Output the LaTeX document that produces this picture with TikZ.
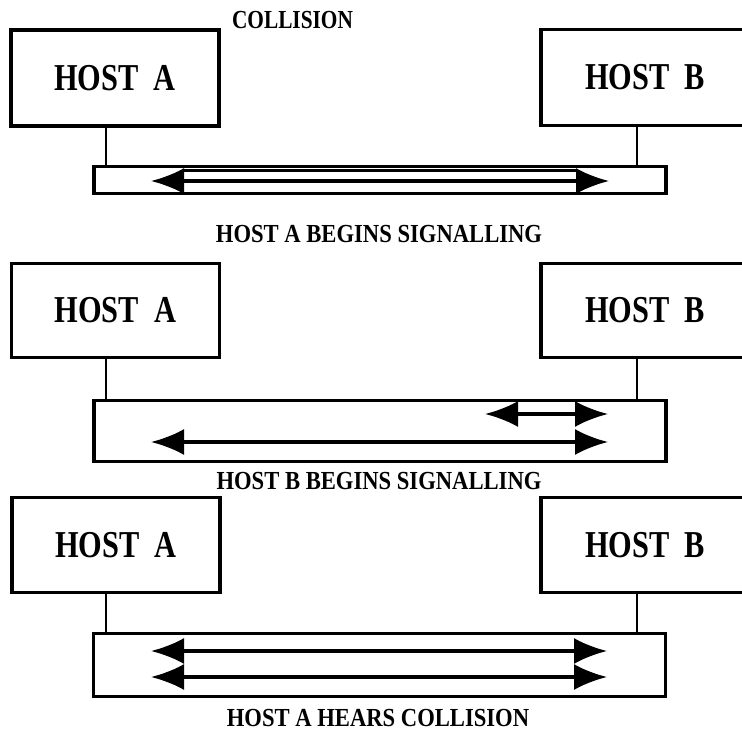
\documentclass[tikz,border=0pt]{standalone}
\usepackage{fontspec}
\usepackage{graphicx}
\setmainfont{Liberation Serif}
\usetikzlibrary{arrows.meta}
\newcommand{\hosttxt}[1]{\scalebox{0.80}[1]{#1}}
\newcommand{\labtxt}[1]{\scalebox{0.87}[1]{#1}}
\begin{document}
\begin{tikzpicture}[x=1pt,y=-1pt,
  host/.style={draw, line width=3.2pt, minimum width=208pt, inner sep=0pt,
    font=\fontsize{38}{40}\selectfont\bfseries},
  bus/.style={draw, line width=3.2pt, minimum width=572pt, inner sep=0pt},
  lab/.style={font=\fontsize{26}{28}\selectfont\bfseries, inner sep=0pt},
  sig/.style={line width=3.2pt, {Latex[length=33pt,width=26pt]}-{Latex[length=33pt,width=26pt]}},
  stub/.style={line width=2.8pt}]
\useasboundingbox (0,0) rectangle (742,733);
\clip (0,0) rectangle (742,733);

% ---------- panel 1 ----------
\node[lab] (t0) at (292.5,20) {\scalebox{0.82}[1]{COLLISION}};
\node[host, minimum height=96pt] (hA1) at (115,78) {\hosttxt{HOST\ \ A}};
\node[host, minimum height=96pt] (hB1) at (645,77.5) {\hosttxt{HOST\ \ B}};
\node[bus, minimum height=27pt] (bus1) at (380,180) {};
\draw[stub] ([xshift=-9pt]hA1.south) -- ([xshift=-9pt]hA1.south |- bus1.north);
\draw[stub] ([xshift=-8pt]hB1.south) -- ([xshift=-8pt]hB1.south |- bus1.north);
\coordinate (p1l) at (151,181);
\coordinate (p1r) at (609,181);
\coordinate (q1l) at (184,170.5);
\coordinate (q1r) at (576,170.5);
\draw[sig] (p1l) -- (p1r);
\draw[line width=2.6pt] (q1l) -- (q1r);
\node[lab] (t1) at (379,234) {\labtxt{HOST A BEGINS SIGNALLING}};

% ---------- panel 2 ----------
\node[host, minimum height=94pt] (hA2) at (115.5,310.5) {\hosttxt{HOST\ \ A}};
\node[host, minimum height=94pt] (hB2) at (645,310.5) {\hosttxt{HOST\ \ B}};
\node[bus, minimum height=61pt] (bus2) at (380,431) {};
\draw[stub] ([xshift=-9.5pt]hA2.south) -- ([xshift=-9.5pt]hA2.south |- bus2.north);
\draw[stub] ([xshift=-8pt]hB2.south) -- ([xshift=-8pt]hB2.south |- bus2.north);
\coordinate (p2l) at (485,414);
\coordinate (p2r) at (608,414);
\coordinate (r2l) at (151,442);
\coordinate (r2r) at (608,442);
\draw[sig] (p2l) -- (p2r);
\draw[sig] (r2l) -- (r2r);
\node[lab] (t2) at (379,481) {\labtxt{HOST B BEGINS SIGNALLING}};

% ---------- panel 3 ----------
\node[host, minimum height=95pt] (hA3) at (116,545) {\hosttxt{HOST\ \ A}};
\node[host, minimum height=95pt] (hB3) at (645,545) {\hosttxt{HOST\ \ B}};
\node[bus, minimum height=63pt] (bus3) at (379.5,665) {};
\draw[stub] ([xshift=-10pt]hA3.south) -- ([xshift=-10pt]hA3.south |- bus3.north);
\draw[stub] ([xshift=-8pt]hB3.south) -- ([xshift=-8pt]hB3.south |- bus3.north);
\coordinate (p3l) at (151,651);
\coordinate (p3r) at (607,651);
\coordinate (r3l) at (151,677);
\coordinate (r3r) at (607,677);
\draw[sig] (p3l) -- (p3r);
\draw[sig] (r3l) -- (r3r);
\node[lab] (t3) at (378,718) {\labtxt{HOST A HEARS COLLISION}};
\end{tikzpicture}
\end{document}
